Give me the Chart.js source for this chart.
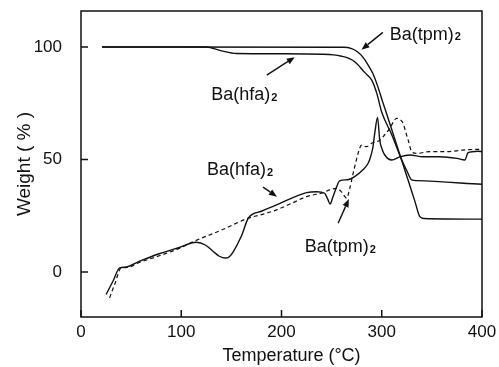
<!DOCTYPE html>
<html>
<head>
<meta charset="utf-8">
<script src="https://cdn.jsdelivr.net/npm/chart.js@4.4.1/dist/chart.umd.min.js"></script>
<style>
  html, body { margin: 0; padding: 0; background: #fff; }
  #wrap { width: 499px; height: 367px; }
</style>
</head>
<body>
<div id="wrap"><canvas id="c" width="499" height="367"></canvas></div>
<script>
// axis ticks
const xTicks = [0, 100, 200, 300, 400];
const yTicks = [0, 50, 100];

// TG curves (weight %)
const tgTpmT = [21, 262, 270, 276, 281, 286, 291, 296, 301, 306, 312, 319, 326, 333, 338, 342, 400];
const tgTpmW = [100, 99.9, 99.3, 97.8, 95.6, 92.3, 88.3, 82.5, 75.5, 68.8, 60.5, 50.8, 41.2, 31.5, 24.6, 23.8, 23.5];

const tgHfaT = [21, 125, 140, 155, 200, 240, 252, 260, 266, 271, 276, 281, 286, 290, 295, 300, 310, 319, 325, 330, 335, 400];
const tgHfaW = [100, 100, 98.3, 97.1, 97, 96.8, 96.5, 95.9, 95.2, 94.1, 92.2, 89.7, 87.3, 85.3, 79.5, 71, 61, 50.8, 45, 40.9, 40.6, 39.0];

// DTA curves (plotted on the same axis)
const dtaHfaT = [25, 32, 38.5, 45, 58, 78, 98, 115, 124, 132, 138, 144, 148, 152, 160, 167, 180, 195, 208, 225, 235, 243, 246, 248.5, 251, 255, 258, 266, 273, 281, 286, 288, 291, 293, 295.8, 298, 300, 303, 310, 318, 328, 341, 358, 375, 383, 386, 396, 400];
const dtaHfaV = [-10, -4, 1.8, 2.2, 4.7, 8.1, 10.9, 13.2, 12, 9.1, 7, 6.2, 6.8, 9.1, 16, 24, 27, 29.8, 32.4, 35.3, 35.7, 35, 32.5, 30.2, 33, 37.9, 40.5, 41, 42.4, 45.3, 48, 50, 55, 61.6, 68.7, 58.6, 55, 52, 49.8, 51.2, 52, 51.2, 51.2, 50.5, 49.8, 53, 53.7, 53.5];

const dtaTpmT = [28.5, 34, 40, 46, 58, 78, 98, 112, 140, 166.6, 180, 195, 210, 225, 241.5, 248, 255, 260, 265, 268, 271.5, 276.4, 279.8, 284.8, 289.8, 298, 303, 308, 312, 314.8, 318, 321.4, 324, 326.4, 329.8, 334.8, 348, 365, 381, 396, 400];
const dtaTpmV = [-11.5, -5, 1.8, 2.0, 4.2, 7.2, 10.5, 13.5, 18.6, 23.9, 25.5, 27.6, 30.5, 33.5, 35.3, 36.5, 37.2, 35.5, 32.8, 37, 43.9, 52.7, 56.4, 55.7, 57.2, 58.6, 61, 63.8, 67, 68.3, 67.8, 66, 62, 58.6, 53.5, 52.7, 53.5, 53.5, 54.2, 54.5, 54.5];

// annotations (data units)
const noteText = ['Ba(tpm)', 'Ba(hfa)', 'Ba(hfa)', 'Ba(tpm)'];
const noteX = [308, 130, 125.6, 223.2];
const noteY = [103.2, 76.4, 43.1, 8.7];
const arrowFromX = [301.1, 185.3, 181.6, 256.5];
const arrowFromY = [106.5, 87.5, 37.7, 21.7];
const arrowToX = [279.8, 213.2, 195.5, 267.2];
const arrowToY = [98.8, 95.5, 33.5, 32.4];

const FONT = '"Liberation Sans", Arial, Helvetica, sans-serif';
const INK = '#111';

function pts (xs, ys) {
  return xs.map((v, i) => ({ x: v, y: ys[i] }));
}

function line (ctx, x1, y1, x2, y2) {
  ctx.beginPath();
  ctx.moveTo(x1, y1);
  ctx.lineTo(x2, y2);
  ctx.stroke();
}

// frame, inward ticks, axis titles and notes
const decor = {
  id: 'decor',
  afterDraw (chart) {
    const { ctx, chartArea: a, scales: { x, y } } = chart;
    ctx.save();
    ctx.strokeStyle = INK;
    ctx.fillStyle = INK;
    ctx.lineWidth = 1.5;
    ctx.strokeRect(a.left, a.top, a.right - a.left, a.bottom - a.top);
    xTicks.forEach(v => {
      const px = x.getPixelForValue(v);
      line(ctx, px, a.bottom, px, a.bottom - 7);
    });
    yTicks.forEach(v => {
      const py = y.getPixelForValue(v);
      line(ctx, a.left, py, a.left + 7, py);
    });

    // axis titles
    ctx.font = '18px ' + FONT;
    ctx.textAlign = 'center';
    ctx.textBaseline = 'alphabetic';
    ctx.fillText('Temperature (°C)', (a.left + a.right) / 2 + 10, 361);
    ctx.save();
    ctx.translate(30, (a.top + a.bottom) / 2);
    ctx.rotate(-Math.PI / 2);
    ctx.font = '19px ' + FONT;
    ctx.fillText('Weight ( % )', 0, 0);
    ctx.restore();

    // notes with subscript 2
    ctx.textAlign = 'left';
    noteText.forEach((t, i) => {
      const px = x.getPixelForValue(noteX[i]);
      const py = y.getPixelForValue(noteY[i]);
      ctx.font = '18px ' + FONT;
      ctx.fillText(t, px, py);
      const w = ctx.measureText(t).width;
      ctx.font = 'bold 11px ' + FONT;
      ctx.fillText('2', px + w + 1, py + 0.5);
    });

    // arrows
    ctx.lineWidth = 1.4;
    arrowFromX.forEach((_, i) => {
      const x1 = x.getPixelForValue(arrowFromX[i]);
      const y1 = y.getPixelForValue(arrowFromY[i]);
      const x2 = x.getPixelForValue(arrowToX[i]);
      const y2 = y.getPixelForValue(arrowToY[i]);
      const ang = Math.atan2(y2 - y1, x2 - x1);
      const len = 8, half = 3.2;
      const bx = x2 - len * Math.cos(ang), by = y2 - len * Math.sin(ang);
      line(ctx, x1, y1, bx, by);
      ctx.beginPath();
      ctx.moveTo(x2, y2);
      ctx.lineTo(bx + half * Math.sin(ang), by - half * Math.cos(ang));
      ctx.lineTo(bx - half * Math.sin(ang), by + half * Math.cos(ang));
      ctx.closePath();
      ctx.fill();
    });
    ctx.restore();
  }
};

const solid = { borderColor: INK, borderWidth: 1.4, pointRadius: 0, showLine: true, fill: false, cubicInterpolationMode: 'monotone' };

new Chart(document.getElementById('c'), {
  type: 'scatter',
  data: {
    datasets: [
      { ...solid, label: 'TG Ba(tpm)2', data: pts(tgTpmT, tgTpmW) },
      { ...solid, label: 'TG Ba(hfa)2', data: pts(tgHfaT, tgHfaW) },
      { ...solid, label: 'DTA Ba(hfa)2', data: pts(dtaHfaT, dtaHfaV) },
      { ...solid, label: 'DTA Ba(tpm)2', data: pts(dtaTpmT, dtaTpmV), borderDash: [4, 3], borderWidth: 1.2 }
    ]
  },
  options: {
    responsive: false,
    animation: false,
    layout: { padding: { left: 0, top: 11, right: 17, bottom: 0 } },
    plugins: { legend: { display: false }, tooltip: { enabled: false } },
    scales: {
      x: {
        type: 'linear',
        min: 0,
        max: 400,
        grid: { display: false },
        border: { display: false },
        afterBuildTicks: s => { s.ticks = xTicks.map(v => ({ value: v })); },
        afterFit: s => { s.height = 50; s.paddingLeft = 0; s.paddingRight = 0; },
        ticks: { color: INK, padding: -3, maxRotation: 0, font: { size: 17, family: FONT } }
      },
      y: {
        type: 'linear',
        min: -20,
        max: 116,
        grid: { display: false },
        border: { display: false },
        afterBuildTicks: s => { s.ticks = yTicks.map(v => ({ value: v })); },
        afterFit: s => { s.width = 81; s.paddingTop = 0; s.paddingBottom = 0; },
        ticks: { color: INK, padding: 11, font: { size: 17, family: FONT } }
      }
    }
  },
  plugins: [decor]
});
</script>
</body>
</html>
